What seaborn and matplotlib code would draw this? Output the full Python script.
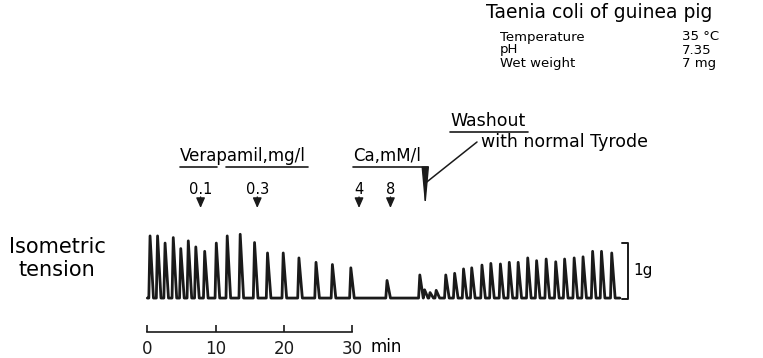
import matplotlib
matplotlib.use("Agg")
import matplotlib.pyplot as plt
from matplotlib.lines import Line2D
from matplotlib.patches import ArrowStyle
import pandas as pd
import seaborn as sns

# contraction peaks: time (min) and peak tension (g)
peak_times = [0.4, 1.5, 2.6, 3.8, 4.9, 6.0, 7.1, 8.4, 10.1, 11.7, 13.6, 15.7,
              17.6, 19.9, 22.2, 24.7, 27.1, 29.8, 35.1, 39.9, 43.7, 45.0, 46.3,
              47.5, 49.0, 50.3, 51.7, 53.0, 54.3, 55.7, 57.0, 58.4, 59.8, 61.1,
              62.5, 63.8, 65.2, 66.5, 68.0]
peak_tension = [1.13, 1.13, 1.0, 1.1, 0.9, 1.04, 0.93, 0.85, 1.0, 1.13, 1.16,
                1.01, 0.82, 0.82, 0.73, 0.65, 0.61, 0.55, 0.32, 0.42, 0.42,
                0.45, 0.53, 0.55, 0.6, 0.63, 0.62, 0.65, 0.65, 0.73, 0.68,
                0.71, 0.66, 0.71, 0.73, 0.75, 0.85, 0.85, 0.82]
# small ripples after washout
ripple_times = [40.6, 41.4, 42.3]
ripple_tension = [0.15, 0.1, 0.14]
trace_start, trace_end = 0.0, 69.2

vera_times = [7.8, 16.1]
vera_labels = ["0.1", "0.3"]
ca_times = [31.0, 35.6]
ca_labels = ["4", "8"]
washout_time = 40.7

time_ticks = [0, 10, 20, 30]
time_labels = ["0", "10", "20", "30"]

W, H = 763, 358


def px(x, y):
    return x / W, 1 - y / H


# build the pen trace from the peaks
events = sorted(zip(peak_times + ripple_times, peak_tension + ripple_tension))
tt, yy = [trace_start], [0.0]
for t, h in events:
    tt += [t - 0.18, t, t + 0.5]
    yy += [0.0, h, 0.0]
tt.append(trace_end)
yy.append(0.0)
trace = pd.DataFrame({"time": tt, "tension": yy})

sns.set_theme(style="white")
plt.rcParams["font.family"] = ["DejaVu Sans"]
plt.rcParams["text.color"] = "black"

fig = plt.figure(figsize=(W / 100, H / 100), dpi=100)
ax = fig.add_axes([0, 0, 1, 1])
ax.patch.set_alpha(0)

sns.lineplot(data=trace, x="time", y="tension", sort=False, estimator=None,
             color="k", lw=2.0, ax=ax)

ax.set_xlim(-21.57, 90.15)
ax.set_ylim(-1.09, 5.42)
ax.set_xlabel("")
ax.set_ylabel("")
for s in ["left", "right", "top"]:
    ax.spines[s].set_visible(False)
ax.spines["bottom"].set_position(("data", -0.618))
ax.spines["bottom"].set_bounds(0, 30)
ax.spines["bottom"].set_color("k")
ax.spines["bottom"].set_linewidth(1.2)
ax.set_yticks([])
ax.set_xticks(time_ticks)
ax.set_xticklabels(time_labels)
ax.tick_params(axis="x", direction="in", length=5, width=1.2, labelsize=12,
               pad=5.5, colors="k", labelcolor="k", bottom=True)
fig.text(*px(371, 347), "min", fontsize=12, ha="left", va="center")

# 1 g calibration bracket
ax.plot([69.5, 70.35, 70.35, 69.5], [1.0, 1.0, -0.02, -0.02], color="k", lw=1.4)
ax.text(71.2, 0.5, "1g", fontsize=11, ha="left", va="center")

fig.text(*px(57, 247), "Isometric", fontsize=15, ha="center", va="center")
fig.text(*px(57, 270), "tension", fontsize=15, ha="center", va="center")

# header block
fig.text(*px(486, 13), "Taenia coli of guinea pig", fontsize=13.5, ha="left", va="center")
for y, lab, val in [(37, "Temperature", "35 °C"), (50, "pH", "7.35"),
                    (63, "Wet weight", "7 mg")]:
    fig.text(*px(500, y), lab, fontsize=9.5, ha="left", va="center")
    fig.text(*px(682, y), val, fontsize=9.5, ha="left", va="center")


def underline(x0, x1, y):
    fig.add_artist(Line2D([x0 / W, x1 / W], [1 - y / H] * 2,
                          transform=fig.transFigure, color="k", lw=1.2))


fig.text(*px(180, 156), "Verapamil,mg/l", fontsize=12, ha="left", va="center")
underline(180, 217, 167)
underline(226, 308, 167)
fig.text(*px(353, 156), "Ca,mM/l", fontsize=12, ha="left", va="center")
underline(353, 428, 167)

fig.text(*px(450, 121), "Washout", fontsize=12.5, ha="left", va="center")
underline(450, 528, 132)
fig.text(*px(481, 142), "with normal Tyrode", fontsize=12.5, ha="left", va="center")

small = dict(arrowstyle=ArrowStyle("-|>", head_length=0.5, head_width=0.22),
             color="k", lw=1.0, mutation_scale=12, shrinkA=0, shrinkB=0)
for times, labels in [(vera_times, vera_labels), (ca_times, ca_labels)]:
    for t, lab in zip(times, labels):
        ax.text(t, 1 - 189 / H, lab, transform=ax.get_xaxis_transform(),
                fontsize=10.5, ha="center", va="center")
        ax.annotate("", xy=(t, 1 - 208 / H), xycoords=("data", "axes fraction"),
                    xytext=(t, 1 - 197 / H), textcoords=("data", "axes fraction"),
                    arrowprops=small)

big = dict(arrowstyle=ArrowStyle("-|>", head_length=2.4, head_width=0.22),
           color="k", lw=1.0, mutation_scale=10, shrinkA=0, shrinkB=0)
ax.annotate("", xy=(washout_time, 1 - 208 / H), xycoords=("data", "axes fraction"),
            xytext=(washout_time, 1 - 182 / H), textcoords=("data", "axes fraction"),
            arrowprops=big)
fig.add_artist(Line2D([477 / W, 425.5 / W], [1 - 142 / H, 1 - 183 / H],
                      transform=fig.transFigure, color="k", lw=1.1))

fig.savefig("out.png", dpi=100, facecolor="white")
